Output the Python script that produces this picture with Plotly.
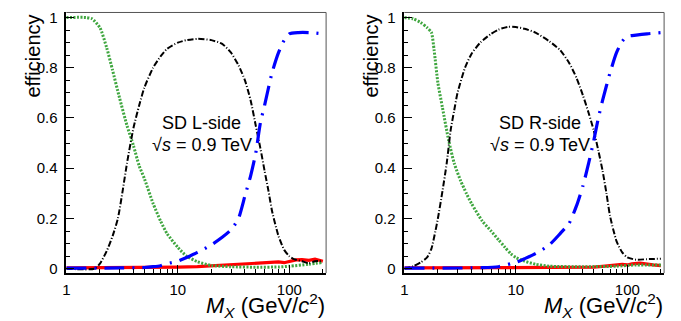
import plotly.graph_objects as go

# ---------------- data ----------------
# Left panel (SD L-side)
L_green_x = [1.0, 1.5, 1.7, 2.0, 2.3, 2.6, 3.0, 3.5, 4.0, 4.5, 5.0, 6.0, 7.0, 8.0, 10, 12, 15, 20, 30, 50, 80, 100, 150, 200]
L_green_y = [1.0, 1.0, 0.995, 0.96, 0.88, 0.79, 0.68, 0.57, 0.49, 0.41, 0.36, 0.26, 0.19, 0.14, 0.085, 0.05, 0.028, 0.013, 0.008, 0.006, 0.007, 0.01, 0.018, 0.025]

L_black_x = [1.0, 1.8, 2.0, 2.3, 2.6, 2.9, 3.2, 3.5, 4.0, 4.5, 5.0, 6.0, 7.0, 8.0, 10, 12, 15, 20, 25, 30, 35, 40, 45, 50, 55, 60, 65, 70, 80, 90, 100, 110, 130, 150, 170, 200]
L_black_y = [0.0, 0.0, 0.02, 0.07, 0.13, 0.2, 0.31, 0.42, 0.56, 0.65, 0.72, 0.8, 0.845, 0.875, 0.9, 0.91, 0.915, 0.91, 0.895, 0.86, 0.81, 0.75, 0.67, 0.57, 0.48, 0.39, 0.31, 0.23, 0.13, 0.075, 0.05, 0.038, 0.03, 0.022, 0.03, 0.03]

L_blue_x = [1.0, 3.0, 5.0, 6.0, 7.0, 8.0, 10, 12, 15, 20, 25, 30, 35, 40, 45, 50, 55, 60, 70, 80, 90, 100, 120, 150, 200]
L_blue_y = [0.002, 0.003, 0.005, 0.008, 0.012, 0.02, 0.03, 0.045, 0.065, 0.095, 0.125, 0.155, 0.2, 0.29, 0.37, 0.46, 0.58, 0.65, 0.78, 0.86, 0.91, 0.935, 0.94, 0.94, 0.935]

L_red_x = [1.0, 5.0, 10, 15, 20, 30, 40, 50, 60, 70, 80, 90, 100, 115, 130, 150, 170, 200]
L_red_y = [0.003, 0.004, 0.006, 0.008, 0.011, 0.015, 0.018, 0.02, 0.024, 0.025, 0.027, 0.024, 0.03, 0.035, 0.036, 0.033, 0.038, 0.03]

# Right panel (SD R-side)
R_green_x = [1.0, 1.2, 1.4, 1.6, 1.75, 1.85, 2.0, 2.2, 2.5, 2.8, 3.2, 3.6, 4.0, 5.0, 6.0, 7.0, 8.0, 9.0, 10, 12, 15, 20, 40, 80, 120, 200]
R_green_y = [1.0, 0.995, 0.98, 0.96, 0.94, 0.87, 0.74, 0.64, 0.51, 0.42, 0.35, 0.3, 0.26, 0.19, 0.15, 0.115, 0.085, 0.06, 0.045, 0.03, 0.018, 0.01, 0.008, 0.01, 0.015, 0.015]

R_black_x = [1.0, 1.2, 1.4, 1.6, 1.75, 1.9, 2.0, 2.2, 2.4, 2.6, 2.8, 3.0, 3.5, 4.0, 4.8, 6.0, 7.0, 8.5, 10, 12, 15, 20, 25, 30, 35, 40, 45, 50, 55, 60, 65, 70, 80, 90, 100, 120, 150, 200]
R_black_y = [0.0, 0.01, 0.025, 0.045, 0.08, 0.15, 0.2, 0.31, 0.42, 0.55, 0.63, 0.7, 0.8, 0.855, 0.9, 0.935, 0.952, 0.963, 0.962, 0.955, 0.94, 0.905, 0.87, 0.82, 0.76, 0.69, 0.62, 0.55, 0.47, 0.39, 0.3, 0.21, 0.11, 0.065, 0.045, 0.036, 0.038, 0.04]

R_blue_x = [1.0, 5.0, 7.0, 8.0, 9.0, 10, 12, 15, 20, 25, 30, 35, 40, 45, 50, 55, 60, 70, 80, 90, 100, 120, 150, 200]
R_blue_y = [0.002, 0.004, 0.008, 0.014, 0.02, 0.025, 0.04, 0.06, 0.095, 0.14, 0.18, 0.25, 0.33, 0.42, 0.51, 0.6, 0.67, 0.78, 0.86, 0.905, 0.925, 0.93, 0.935, 0.94]

R_red_x = [1.0, 10, 30, 50, 60, 70, 80, 90, 100, 110, 130, 150, 170, 200]
R_red_y = [0.003, 0.003, 0.004, 0.006, 0.009, 0.011, 0.013, 0.017, 0.015, 0.019, 0.022, 0.017, 0.015, 0.012]

y_tickvals = [0, 0.2, 0.4, 0.6, 0.8, 1.0]
y_ticktext = ["0", "0.2", "0.4", "0.6", "0.8", "1"]
x_tickvals = [1, 10, 100]
x_ticktext = ["1", "10", "100"]
x_minor = [2, 3, 4, 5, 6, 7, 8, 9, 20, 30, 40, 50, 60, 70, 80, 90, 200]
panel_labels = ["SD L-side", "SD R-side"]
energy_label = "√<i>s</i> = 0.9 TeV"

# ---------------- figure ----------------
FONT = "Liberation Sans, Arial, Helvetica, sans-serif"
W, H = 681, 321
fig = go.Figure()

panels = [
    (L_green_x, L_green_y, L_black_x, L_black_y, L_blue_x, L_blue_y, L_red_x, L_red_y),
    (R_green_x, R_green_y, R_black_x, R_black_y, R_blue_x, R_blue_y, R_red_x, R_red_y),
]
GREEN = "#3fa63f"
for i, (gx, gy, kx, ky, bx, by, rx, ry) in enumerate(panels):
    xa = "x" if i == 0 else "x2"
    ya = "y" if i == 0 else "y2"
    fig.add_trace(go.Scatter(x=rx, y=ry, mode="lines", xaxis=xa, yaxis=ya,
                             line=dict(color="#ff0000", width=3.2), showlegend=False))
    fig.add_trace(go.Scatter(x=gx, y=gy, mode="lines", xaxis=xa, yaxis=ya,
                             line=dict(color=GREEN, width=3, dash="2px,1.5px", shape="spline", smoothing=0.6),
                             showlegend=False))
    fig.add_trace(go.Scatter(x=kx, y=ky, mode="lines", xaxis=xa, yaxis=ya,
                             line=dict(color="#000000", width=2, dash="6px,2px,1px,2px", shape="spline", smoothing=0.6),
                             showlegend=False))
    fig.add_trace(go.Scatter(x=bx, y=by, mode="lines", xaxis=xa, yaxis=ya,
                             line=dict(color="#0000ff", width=3.2, dash="20px,8px,2px,8px", shape="spline", smoothing=0.6),
                             showlegend=False))

xdoms = [[62.7 / W, 324 / W], [402.7 / W, 664 / W]]
ydom = [1 - 276 / H, 1 - 8.7 / H]

common_x = dict(type="log", range=[0, 2.33], tickmode="array", tickvals=x_tickvals, ticktext=x_ticktext,
                ticks="inside", ticklen=8, tickwidth=1, tickcolor="black",
                minor=dict(tickmode="array", tickvals=x_minor, ticks="inside", ticklen=4, tickwidth=1, tickcolor="black", showgrid=False),
                showline=True, linecolor="black", linewidth=1.6, mirror=False,
                showgrid=False, zeroline=False,
                tickfont=dict(family=FONT, size=15, color="black"), ticklabelstandoff=2)
common_y = dict(range=[-0.0175, 1.02], tickmode="array", tickvals=y_tickvals, ticktext=y_ticktext,
                ticks="inside", ticklen=8, tickwidth=1, tickcolor="black",
                minor=dict(dtick=0.05, tick0=0, ticks="inside", ticklen=4, tickwidth=1, tickcolor="black", showgrid=False),
                showline=True, linecolor="black", linewidth=1.6, mirror=False,
                showgrid=False, zeroline=False,
                tickfont=dict(family=FONT, size=15, color="black"), ticklabelstandoff=4)

fig.update_layout(
    width=W, height=H,
    margin=dict(l=0, r=0, t=0, b=0),
    paper_bgcolor="white", plot_bgcolor="white",
    xaxis=dict(domain=xdoms[0], anchor="y", **common_x),
    yaxis=dict(domain=ydom, anchor="x", **common_y),
    xaxis2=dict(domain=xdoms[1], anchor="y2", **common_x),
    yaxis2=dict(domain=ydom, anchor="x2", **common_y),
)

# gray frame on top and right
for i in range(2):
    xr = "x domain" if i == 0 else "x2 domain"
    yr = "y domain" if i == 0 else "y2 domain"
    fig.add_shape(type="line", xref=xr, yref=yr, x0=0, x1=1, y0=1, y1=1, line=dict(color="#555555", width=1))
    fig.add_shape(type="line", xref=xr, yref=yr, x0=1, x1=1, y0=0, y1=1, line=dict(color="#555555", width=1))

for i in range(2):
    off = 0 if i == 0 else 340
    fig.add_annotation(x=(198.7 + off) / W, y=1 - 121.7 / H, xref="paper", yref="paper",
                       text=panel_labels[i], showarrow=False, xanchor="center", yanchor="middle",
                       font=dict(family=FONT, size=18, color="black"))
    fig.add_annotation(x=(199 + off) / W, y=1 - 145 / H, xref="paper", yref="paper",
                       text=energy_label, showarrow=False, xanchor="center", yanchor="middle",
                       font=dict(family=FONT, size=18, color="black"))
    fig.add_annotation(x=(29 + off) / W, y=1 - 53 / H, xref="paper", yref="paper",
                       text="efficiency", textangle=-90, showarrow=False, xanchor="center", yanchor="middle",
                       font=dict(family=FONT, size=20, color="black"))
    fig.add_annotation(x=(324 + off) / W, y=1 - 309.5 / H, xref="paper", yref="paper",
                       text="<i>M</i><sub><i>X</i></sub> (GeV/<i>c</i><sup>2</sup>)", showarrow=False,
                       xanchor="right", yanchor="middle", borderpad=0,
                       font=dict(family=FONT, size=22, color="black"))

fig.write_html("out.html", config={"displayModeBar": False},
               post_script="document.body.style.margin='0';document.body.style.padding='0';document.body.style.overflow='hidden';")
